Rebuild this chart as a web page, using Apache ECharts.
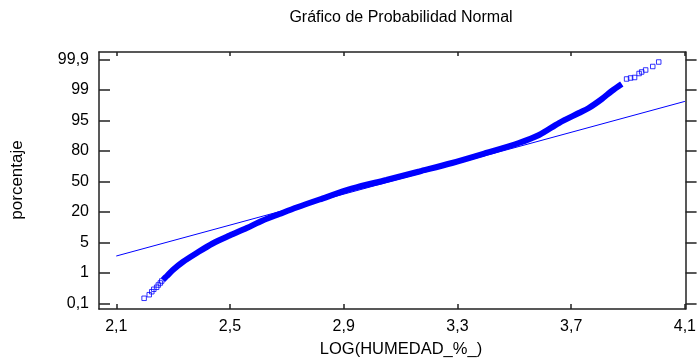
<!DOCTYPE html>
<html>
<head>
<meta charset="utf-8">
<script src="https://cdn.jsdelivr.net/npm/echarts@6/dist/echarts.min.js"></script>
<style>
  html, body { margin: 0; padding: 0; background: #fff; }
  #main { width: 699px; height: 360px; }
</style>
</head>
<body>
<div id="main"></div>
<script>
// escala de probabilidad: cada marca es una posicion (0..8) del eje
var probLabels = ['0,1', '1', '5', '20', '50', '80', '95', '99', '99,9'];
var probPos = [0, 1, 2, 3, 4, 5, 6, 7, 8];
var xTicks = [2.1, 2.5, 2.9, 3.3, 3.7, 4.1];

// puntos aislados de la cola inferior
var lowX = [2.198, 2.216, 2.225, 2.232, 2.242, 2.248, 2.255, 2.260];
var lowY = [0.164, 0.282, 0.380, 0.459, 0.525, 0.600, 0.666, 0.731];

// zona densa de puntos (banda continua)
var bandX = [2.264, 2.278, 2.299, 2.334, 2.383, 2.439, 2.499, 2.559, 2.615, 2.674, 2.734,
             2.815, 2.931, 3.050, 3.166, 3.281, 3.401, 3.516, 3.587, 3.657, 3.727, 3.762,
             3.808, 3.843, 3.878];
var bandY = [0.764, 0.895, 1.092, 1.354, 1.649, 1.961, 2.223, 2.469, 2.715, 2.928, 3.141,
             3.403, 3.764, 4.043, 4.321, 4.600, 4.928, 5.256, 5.518, 5.911, 6.239, 6.403,
             6.698, 6.961, 7.190];

// puntos aislados de la cola superior
var highX = [3.895, 3.909, 3.923, 3.939, 3.948, 3.962, 3.987, 4.008];
var highY = [7.354, 7.387, 7.403, 7.534, 7.584, 7.649, 7.764, 7.911];

// recta de referencia normal
var fitX = [2.1, 4.1];
var fitY = [1.55, 6.62];

function pairs(xs, ys) {
    return xs.map(function (x, i) { return [x, ys[i]]; });
}

var FONT = 'Liberation Sans, Arial, sans-serif';
var AXIS = '#222';
var BLUE = '#0000ff';

var myChart = echarts.init(document.getElementById('main'));

var option = {
    animation: false,
    grid: { left: 99, top: 52, width: 588, height: 257 },
    graphic: [
        { type: 'text', x: 401, y: 18, style: { text: 'Gráfico de Probabilidad Normal', font: '16px ' + FONT, fill: '#000', textAlign: 'center', textVerticalAlign: 'middle' } },
        { type: 'text', x: 401, y: 349, style: { text: 'LOG(HUMEDAD_%_)', font: '16.5px ' + FONT, fill: '#000', textAlign: 'center', textVerticalAlign: 'middle' } },
        { type: 'text', x: 17, y: 180, rotation: Math.PI / 2, style: { text: 'porcentaje', font: '17px ' + FONT, fill: '#000', textAlign: 'center', textVerticalAlign: 'middle' } }
    ],
    xAxis: [
        {
            type: 'value', position: 'bottom', min: 2.0393, max: 4.1025,
            axisLine: { show: true, onZero: false, lineStyle: { color: AXIS, width: 1.5 } },
            axisTick: { show: true, inside: true, length: 5, customValues: xTicks, lineStyle: { color: AXIS, width: 1.5 } },
            axisLabel: { show: true, margin: 10, customValues: xTicks, color: '#000', fontSize: 16, fontFamily: FONT,
                formatter: function (v) { return v.toFixed(1).replace('.', ','); } },
            splitLine: { show: false }
        },
        {
            type: 'value', position: 'top', min: 2.0393, max: 4.1025,
            axisLine: { show: true, onZero: false, lineStyle: { color: AXIS, width: 1.5 } },
            axisTick: { show: true, inside: true, length: 4, customValues: xTicks, lineStyle: { color: AXIS, width: 1.5 } },
            axisLabel: { show: false },
            splitLine: { show: false }
        }
    ],
    yAxis: [
        {
            type: 'value', position: 'left', min: -0.187, max: 8.239,
            axisLine: { show: true, onZero: false, lineStyle: { color: AXIS, width: 1.5 } },
            axisTick: { show: true, inside: true, length: 11, customValues: probPos, lineStyle: { color: AXIS, width: 1.5 } },
            axisLabel: { show: true, margin: 10, customValues: probPos, color: '#000', fontSize: 16, fontFamily: FONT,
                formatter: function (v) { return probLabels[Math.round(v)]; } },
            splitLine: { show: false }
        },
        {
            type: 'value', position: 'right', min: -0.187, max: 8.239,
            axisLine: { show: true, onZero: false, lineStyle: { color: AXIS, width: 1.5 } },
            axisTick: { show: true, inside: false, length: 11, customValues: probPos, lineStyle: { color: AXIS, width: 1.5 } },
            axisLabel: { show: false },
            splitLine: { show: false }
        }
    ],
    series: [
        {
            name: 'recta', type: 'line', xAxisIndex: 0, yAxisIndex: 0,
            data: pairs(fitX, fitY), symbol: 'none',
            lineStyle: { color: BLUE, width: 1 }, z: 2
        },
        {
            name: 'banda', type: 'line', xAxisIndex: 0, yAxisIndex: 0,
            data: pairs(bandX, bandY), symbol: 'none', smooth: 0.3,
            lineStyle: { color: BLUE, width: 6 }, z: 3
        },
        {
            name: 'colas', type: 'scatter', xAxisIndex: 0, yAxisIndex: 0,
            data: pairs(lowX, lowY).concat(pairs(highX, highY)),
            symbol: 'rect', symbolSize: 4.5,
            itemStyle: { color: 'rgba(0,0,0,0)', borderColor: BLUE, borderWidth: 1 }, z: 4
        }
    ]
};

myChart.setOption(option);
</script>
</body>
</html>
